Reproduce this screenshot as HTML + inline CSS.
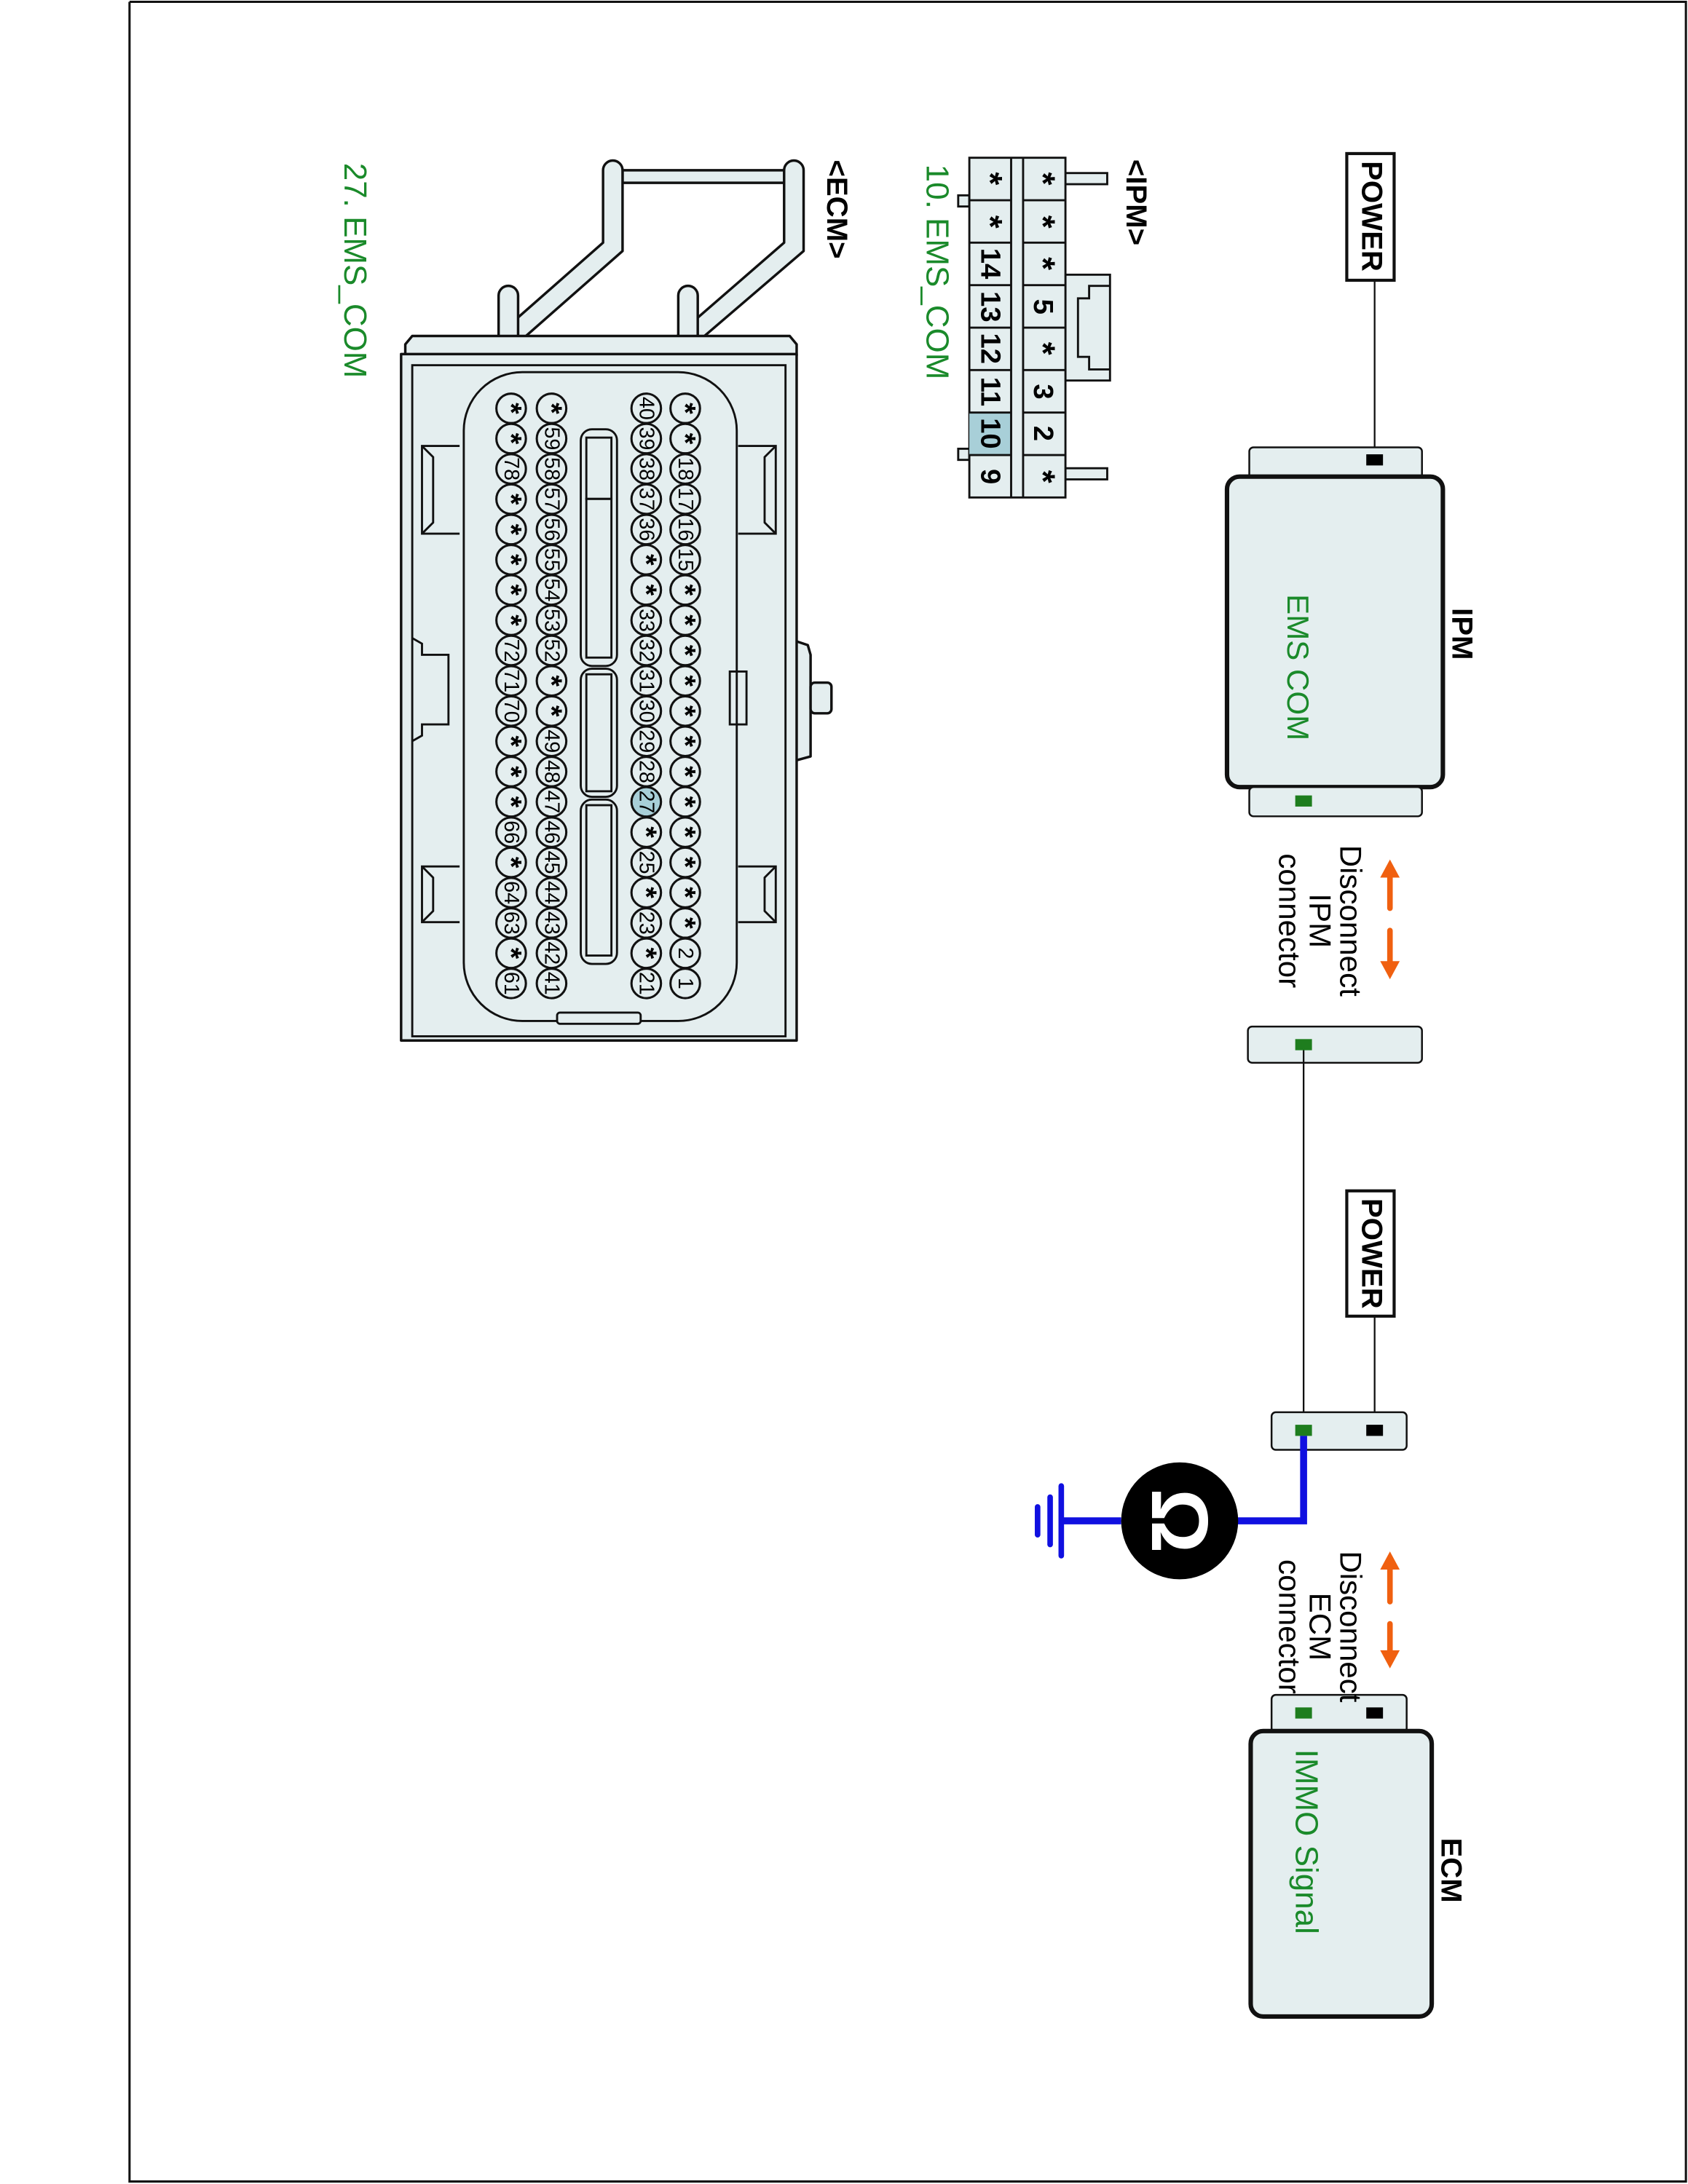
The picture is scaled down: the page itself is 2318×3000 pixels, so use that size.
<!DOCTYPE html>
<html><head><meta charset="utf-8"><style>html,body{margin:0;padding:0;background:#fff}svg{display:block}</style></head>
<body>
<svg xmlns="http://www.w3.org/2000/svg" width="2318" height="3000" viewBox="0 0 1212 1568" font-family="Liberation Sans, Arial, sans-serif">
<rect x="0" y="0" width="1212" height="1568" fill="#fff"/>
<polyline points="93,1 1210.5,1 1210.5,1566.5 93,1566.5 93,1" fill="none" stroke="#111" stroke-width="1.6"/>

<g fill="#e4eeef" stroke="#111">
<rect x="967" y="110" width="34" height="91" fill="#fff" stroke-width="2.2"/>
<line x1="987" y1="201" x2="987" y2="330" stroke-width="1.2"/>
<rect x="897" y="321" width="124" height="24" rx="3" stroke-width="1.3"/>
<rect x="881" y="342" width="155" height="223" rx="9" stroke-width="3.2"/>
<rect x="897" y="565" width="124" height="21" rx="3" stroke-width="1.3"/>
<rect x="896" y="737" width="125" height="26" rx="3" stroke-width="1.3"/>
<line x1="936" y1="750" x2="936" y2="1027" stroke-width="1.2"/>
<rect x="967" y="855" width="34" height="90" fill="#fff" stroke-width="2.2"/>
<line x1="987" y1="945" x2="987" y2="1027" stroke-width="1.2"/>
<rect x="913" y="1014" width="97" height="27" rx="3" stroke-width="1.3"/>
<rect x="913" y="1217" width="97" height="27" rx="3" stroke-width="1.3"/>
<rect x="898" y="1243" width="130" height="205" rx="9" stroke-width="3.2"/>
</g>
<rect x="981" y="326" width="12" height="8" fill="#000"/>
<rect x="930" y="571" width="12" height="8" fill="#1e7d1e"/>
<rect x="930" y="746" width="12" height="8" fill="#1e7d1e"/>
<rect x="930" y="1023" width="12" height="8" fill="#1e7d1e"/>
<rect x="981" y="1023" width="12" height="8" fill="#000"/>
<rect x="930" y="1226" width="12" height="8" fill="#1e7d1e"/>
<rect x="981" y="1226" width="12" height="8" fill="#000"/>

<polyline points="936,1031 936,1092 880,1092" fill="none" stroke="#1010e0" stroke-width="5"/>
<line x1="805" y1="1092" x2="763" y2="1092" stroke="#1010e0" stroke-width="5"/>
<line x1="762" y1="1067" x2="762" y2="1117" stroke="#1010e0" stroke-width="4" stroke-linecap="round"/>
<line x1="754" y1="1075" x2="754" y2="1109" stroke="#1010e0" stroke-width="4" stroke-linecap="round"/>
<line x1="745" y1="1082" x2="745" y2="1102" stroke="#1010e0" stroke-width="4" stroke-linecap="round"/>
<circle cx="847" cy="1092" r="42" fill="#000"/>
<text x="847" y="1092" transform="rotate(90 847 1092)" font-size="58" font-weight="bold" fill="#fff" text-anchor="middle" dominant-baseline="central">Ω</text>

<g stroke="#f06010" stroke-width="4" stroke-linecap="round" fill="#f06010">
<line x1="998" y1="630" x2="998" y2="652"/><line x1="998" y1="668" x2="998" y2="690"/>
<polygon points="998,617 991,630 1005,630" stroke="none"/><polygon points="998,703 991,690 1005,690" stroke="none"/>
<line x1="998" y1="1127" x2="998" y2="1150"/><line x1="998" y1="1166" x2="998" y2="1185"/>
<polygon points="998,1114 991,1127 1005,1127" stroke="none"/><polygon points="998,1198 991,1185 1005,1185" stroke="none"/>
</g>

<g font-size="22" fill="#000" text-anchor="middle" dominant-baseline="central">
<text x="985" y="155" transform="rotate(90 985 155)" font-weight="bold" font-size="21">POWER</text>
<text x="985" y="900" transform="rotate(90 985 900)" font-weight="bold" font-size="21">POWER</text>
<text x="1050" y="455" transform="rotate(90 1050 455)" font-weight="bold" font-size="21">IPM</text>
<text x="1042" y="1343" transform="rotate(90 1042 1343)" font-weight="bold" font-size="21">ECM</text>
<text x="970" y="661" transform="rotate(90 970 661)">Disconnect</text>
<text x="948" y="661" transform="rotate(90 948 661)">IPM</text>
<text x="926" y="661" transform="rotate(90 926 661)">connector</text>
<text x="970" y="1168" transform="rotate(90 970 1168)">Disconnect</text>
<text x="948" y="1168" transform="rotate(90 948 1168)">ECM</text>
<text x="926" y="1168" transform="rotate(90 926 1168)">connector</text>
<text x="932" y="479" transform="rotate(90 932 479)" fill="#1a8a2a" font-size="22">EMS COM</text>
<text x="938" y="1256" transform="rotate(90 938 1256)" fill="#1a8a2a" text-anchor="start" font-size="23">IMMO Signal</text>
<text x="816" y="145" transform="rotate(90 816 145)" font-weight="bold" font-size="21">&lt;IPM&gt;</text>
<text x="601" y="150" transform="rotate(90 601 150)" font-weight="bold" font-size="21">&lt;ECM&gt;</text>
<text x="673" y="195" transform="rotate(90 673 195)" fill="#1a8a2a" font-size="23">10. EMS_COM</text>
<text x="255" y="194" transform="rotate(90 255 194)" fill="#1a8a2a" font-size="23">27. EMS_COM</text>
</g>

<g fill="#e4eeef" stroke="#111" stroke-width="1.5">
<rect x="765" y="124" width="30" height="8"/>
<rect x="765" y="336" width="30" height="8"/>
<rect x="765" y="197" width="32" height="76"/>
<polyline points="797,205 782,205 782,214 774,214 774,256 782,256 782,265 797,265" fill="none"/>
<rect x="688" y="140" width="8" height="8"/>
<rect x="688" y="322" width="8" height="8"/>
<rect x="696" y="113" width="69" height="244"/>
</g>
<rect x="696" y="296" width="30" height="30.5" fill="#a8cfd8"/>
<g stroke="#111" stroke-width="1.5" fill="none">
<line x1="726" y1="113" x2="726" y2="357"/><line x1="734.6" y1="113" x2="734.6" y2="357"/>
<line x1="696" y1="143.5" x2="726" y2="143.5"/><line x1="734.6" y1="143.5" x2="765" y2="143.5"/>
<line x1="696" y1="174" x2="726" y2="174"/><line x1="734.6" y1="174" x2="765" y2="174"/>
<line x1="696" y1="204.5" x2="726" y2="204.5"/><line x1="734.6" y1="204.5" x2="765" y2="204.5"/>
<line x1="696" y1="235" x2="726" y2="235"/><line x1="734.6" y1="235" x2="765" y2="235"/>
<line x1="696" y1="265.5" x2="726" y2="265.5"/><line x1="734.6" y1="265.5" x2="765" y2="265.5"/>
<line x1="696" y1="296" x2="726" y2="296"/><line x1="734.6" y1="296" x2="765" y2="296"/>
<line x1="696" y1="326.5" x2="726" y2="326.5"/><line x1="734.6" y1="326.5" x2="765" y2="326.5"/>
</g>
<g font-size="20" fill="#000" text-anchor="middle" dominant-baseline="central" font-weight="bold">
<text x="711" y="128" transform="rotate(90 711 128)" font-size="24">*</text><text x="749" y="128" transform="rotate(90 749 128)" font-size="24">*</text>
<text x="711" y="159" transform="rotate(90 711 159)" font-size="24">*</text><text x="749" y="159" transform="rotate(90 749 159)" font-size="24">*</text>
<text x="711" y="189" transform="rotate(90 711 189)">14</text><text x="749" y="189" transform="rotate(90 749 189)" font-size="24">*</text>
<text x="711" y="220" transform="rotate(90 711 220)">13</text><text x="749" y="220" transform="rotate(90 749 220)">5</text>
<text x="711" y="250" transform="rotate(90 711 250)">12</text><text x="749" y="250" transform="rotate(90 749 250)" font-size="24">*</text>
<text x="711" y="281" transform="rotate(90 711 281)">11</text><text x="749" y="281" transform="rotate(90 749 281)">3</text>
<text x="711" y="311" transform="rotate(90 711 311)">10</text><text x="749" y="311" transform="rotate(90 749 311)">2</text>
<text x="711" y="342" transform="rotate(90 711 342)">9</text><text x="749" y="342" transform="rotate(90 749 342)" font-size="24">*</text>
</g>

<g fill="#e4eeef" stroke="#111" stroke-width="1.8" stroke-linejoin="round">
<rect x="447" y="122" width="117" height="9"/>
<path d="M433,122 a7,7 0 0 1 14,0 L447,180 L372,246 L358,246 L358,240 L433,174 Z"/>
<path d="M563,122 a7,7 0 0 1 14,0 L577,180 L500,246 L487,246 L487,240 L563,174 Z"/>
<path d="M358,212 a7,7 0 0 1 14,0 L372,252 L358,252 Z"/>
<path d="M487,212 a7,7 0 0 1 14,0 L501,252 L487,252 Z"/>
<path d="M291,255 L291,247 L296,241 L567,241 L572,247 L572,255 Z"/>
<path d="M571,460 L580,463 L582,470 L582,543 L571,546 Z"/>
<rect x="582" y="490" width="15" height="22" rx="3"/>
<rect x="288" y="254" width="284" height="493"/>
</g>
<g fill="none" stroke="#111" stroke-width="1.5">
<rect x="296" y="262" width="268" height="482"/>
<rect x="333" y="267" width="196" height="466" rx="42"/>
<path d="M330,320 L303,320 L303,383 L330,383"/><path d="M303,320 L311,328 L311,375 L303,383"/>
<path d="M530,320 L557,320 L557,383 L530,383"/><path d="M557,320 L549,328 L549,375 L557,383"/>
<path d="M330,622 L303,622 L303,662 L330,662"/><path d="M303,622 L311,630 L311,654 L303,662"/>
<path d="M530,622 L557,622 L557,662 L530,662"/><path d="M557,622 L549,630 L549,654 L557,662"/>
<path d="M296,458 L303,462 L303,470 L322,470 L322,520 L303,520 L303,528 L296,532"/>
<rect x="524" y="482" width="12" height="38"/>
<rect x="400" y="727" width="60" height="8" rx="2" fill="#e4eeef"/>
<rect x="417" y="308" width="26" height="170" rx="8"/>
<rect x="421" y="314" width="18" height="44"/>
<rect x="421" y="358" width="18" height="114"/>
<rect x="417" y="480" width="26" height="92" rx="8"/>
<rect x="421" y="484" width="18" height="84"/>
<rect x="417" y="574" width="26" height="118" rx="8"/>
<rect x="421" y="578" width="18" height="108"/>
</g>

<g fill="#e4eeef" stroke="#111" stroke-width="1.6">
<circle cx="492" cy="293" r="10.6"/><circle cx="492" cy="314.7" r="10.6"/><circle cx="492" cy="336.5" r="10.6"/><circle cx="492" cy="358.2" r="10.6"/><circle cx="492" cy="380" r="10.6"/><circle cx="492" cy="401.7" r="10.6"/><circle cx="492" cy="423.4" r="10.6"/><circle cx="492" cy="445.2" r="10.6"/><circle cx="492" cy="466.9" r="10.6"/><circle cx="492" cy="488.7" r="10.6"/><circle cx="492" cy="510.4" r="10.6"/><circle cx="492" cy="532.1" r="10.6"/><circle cx="492" cy="553.9" r="10.6"/><circle cx="492" cy="575.6" r="10.6"/><circle cx="492" cy="597.4" r="10.6"/><circle cx="492" cy="619.1" r="10.6"/><circle cx="492" cy="640.8" r="10.6"/><circle cx="492" cy="662.6" r="10.6"/><circle cx="492" cy="684.3" r="10.6"/><circle cx="492" cy="706" r="10.6"/>
<circle cx="464" cy="293" r="10.6"/><circle cx="464" cy="314.7" r="10.6"/><circle cx="464" cy="336.5" r="10.6"/><circle cx="464" cy="358.2" r="10.6"/><circle cx="464" cy="380" r="10.6"/><circle cx="464" cy="401.7" r="10.6"/><circle cx="464" cy="423.4" r="10.6"/><circle cx="464" cy="445.2" r="10.6"/><circle cx="464" cy="466.9" r="10.6"/><circle cx="464" cy="488.7" r="10.6"/><circle cx="464" cy="510.4" r="10.6"/><circle cx="464" cy="532.1" r="10.6"/><circle cx="464" cy="553.9" r="10.6"/><circle cx="464" cy="575.6" r="10.6" fill="#a8cfd8"/><circle cx="464" cy="597.4" r="10.6"/><circle cx="464" cy="619.1" r="10.6"/><circle cx="464" cy="640.8" r="10.6"/><circle cx="464" cy="662.6" r="10.6"/><circle cx="464" cy="684.3" r="10.6"/><circle cx="464" cy="706" r="10.6"/>
<circle cx="396" cy="293" r="10.6"/><circle cx="396" cy="314.7" r="10.6"/><circle cx="396" cy="336.5" r="10.6"/><circle cx="396" cy="358.2" r="10.6"/><circle cx="396" cy="380" r="10.6"/><circle cx="396" cy="401.7" r="10.6"/><circle cx="396" cy="423.4" r="10.6"/><circle cx="396" cy="445.2" r="10.6"/><circle cx="396" cy="466.9" r="10.6"/><circle cx="396" cy="488.7" r="10.6"/><circle cx="396" cy="510.4" r="10.6"/><circle cx="396" cy="532.1" r="10.6"/><circle cx="396" cy="553.9" r="10.6"/><circle cx="396" cy="575.6" r="10.6"/><circle cx="396" cy="597.4" r="10.6"/><circle cx="396" cy="619.1" r="10.6"/><circle cx="396" cy="640.8" r="10.6"/><circle cx="396" cy="662.6" r="10.6"/><circle cx="396" cy="684.3" r="10.6"/><circle cx="396" cy="706" r="10.6"/>
<circle cx="367" cy="293" r="10.6"/><circle cx="367" cy="314.7" r="10.6"/><circle cx="367" cy="336.5" r="10.6"/><circle cx="367" cy="358.2" r="10.6"/><circle cx="367" cy="380" r="10.6"/><circle cx="367" cy="401.7" r="10.6"/><circle cx="367" cy="423.4" r="10.6"/><circle cx="367" cy="445.2" r="10.6"/><circle cx="367" cy="466.9" r="10.6"/><circle cx="367" cy="488.7" r="10.6"/><circle cx="367" cy="510.4" r="10.6"/><circle cx="367" cy="532.1" r="10.6"/><circle cx="367" cy="553.9" r="10.6"/><circle cx="367" cy="575.6" r="10.6"/><circle cx="367" cy="597.4" r="10.6"/><circle cx="367" cy="619.1" r="10.6"/><circle cx="367" cy="640.8" r="10.6"/><circle cx="367" cy="662.6" r="10.6"/><circle cx="367" cy="684.3" r="10.6"/><circle cx="367" cy="706" r="10.6"/>
</g>
<style>.s{font-size:21px;font-weight:bold}</style>
<g font-size="15" fill="#000" text-anchor="middle" dominant-baseline="central">
<text class="s" x="492" y="293" transform="rotate(90 492 293)">*</text><text class="s" x="492" y="314.7" transform="rotate(90 492 314.7)">*</text><text x="492" y="336.5" transform="rotate(90 492 336.5)">18</text><text x="492" y="358.2" transform="rotate(90 492 358.2)">17</text><text x="492" y="380" transform="rotate(90 492 380)">16</text><text x="492" y="401.7" transform="rotate(90 492 401.7)">15</text><text class="s" x="492" y="423.4" transform="rotate(90 492 423.4)">*</text><text class="s" x="492" y="445.2" transform="rotate(90 492 445.2)">*</text><text class="s" x="492" y="466.9" transform="rotate(90 492 466.9)">*</text><text class="s" x="492" y="488.7" transform="rotate(90 492 488.7)">*</text><text class="s" x="492" y="510.4" transform="rotate(90 492 510.4)">*</text><text class="s" x="492" y="532.1" transform="rotate(90 492 532.1)">*</text><text class="s" x="492" y="553.9" transform="rotate(90 492 553.9)">*</text><text class="s" x="492" y="575.6" transform="rotate(90 492 575.6)">*</text><text class="s" x="492" y="597.4" transform="rotate(90 492 597.4)">*</text><text class="s" x="492" y="619.1" transform="rotate(90 492 619.1)">*</text><text class="s" x="492" y="640.8" transform="rotate(90 492 640.8)">*</text><text class="s" x="492" y="662.6" transform="rotate(90 492 662.6)">*</text><text x="492" y="684.3" transform="rotate(90 492 684.3)">2</text><text x="492" y="706" transform="rotate(90 492 706)">1</text>
<text x="464" y="293" transform="rotate(90 464 293)">40</text><text x="464" y="314.7" transform="rotate(90 464 314.7)">39</text><text x="464" y="336.5" transform="rotate(90 464 336.5)">38</text><text x="464" y="358.2" transform="rotate(90 464 358.2)">37</text><text x="464" y="380" transform="rotate(90 464 380)">36</text><text class="s" x="464" y="401.7" transform="rotate(90 464 401.7)">*</text><text class="s" x="464" y="423.4" transform="rotate(90 464 423.4)">*</text><text x="464" y="445.2" transform="rotate(90 464 445.2)">33</text><text x="464" y="466.9" transform="rotate(90 464 466.9)">32</text><text x="464" y="488.7" transform="rotate(90 464 488.7)">31</text><text x="464" y="510.4" transform="rotate(90 464 510.4)">30</text><text x="464" y="532.1" transform="rotate(90 464 532.1)">29</text><text x="464" y="553.9" transform="rotate(90 464 553.9)">28</text><text x="464" y="575.6" transform="rotate(90 464 575.6)">27</text><text class="s" x="464" y="597.4" transform="rotate(90 464 597.4)">*</text><text x="464" y="619.1" transform="rotate(90 464 619.1)">25</text><text class="s" x="464" y="640.8" transform="rotate(90 464 640.8)">*</text><text x="464" y="662.6" transform="rotate(90 464 662.6)">23</text><text class="s" x="464" y="684.3" transform="rotate(90 464 684.3)">*</text><text x="464" y="706" transform="rotate(90 464 706)">21</text>
<text class="s" x="396" y="293" transform="rotate(90 396 293)">*</text><text x="396" y="314.7" transform="rotate(90 396 314.7)">59</text><text x="396" y="336.5" transform="rotate(90 396 336.5)">58</text><text x="396" y="358.2" transform="rotate(90 396 358.2)">57</text><text x="396" y="380" transform="rotate(90 396 380)">56</text><text x="396" y="401.7" transform="rotate(90 396 401.7)">55</text><text x="396" y="423.4" transform="rotate(90 396 423.4)">54</text><text x="396" y="445.2" transform="rotate(90 396 445.2)">53</text><text x="396" y="466.9" transform="rotate(90 396 466.9)">52</text><text class="s" x="396" y="488.7" transform="rotate(90 396 488.7)">*</text><text class="s" x="396" y="510.4" transform="rotate(90 396 510.4)">*</text><text x="396" y="532.1" transform="rotate(90 396 532.1)">49</text><text x="396" y="553.9" transform="rotate(90 396 553.9)">48</text><text x="396" y="575.6" transform="rotate(90 396 575.6)">47</text><text x="396" y="597.4" transform="rotate(90 396 597.4)">46</text><text x="396" y="619.1" transform="rotate(90 396 619.1)">45</text><text x="396" y="640.8" transform="rotate(90 396 640.8)">44</text><text x="396" y="662.6" transform="rotate(90 396 662.6)">43</text><text x="396" y="684.3" transform="rotate(90 396 684.3)">42</text><text x="396" y="706" transform="rotate(90 396 706)">41</text>
<text class="s" x="367" y="293" transform="rotate(90 367 293)">*</text><text class="s" x="367" y="314.7" transform="rotate(90 367 314.7)">*</text><text x="367" y="336.5" transform="rotate(90 367 336.5)">78</text><text class="s" x="367" y="358.2" transform="rotate(90 367 358.2)">*</text><text class="s" x="367" y="380" transform="rotate(90 367 380)">*</text><text class="s" x="367" y="401.7" transform="rotate(90 367 401.7)">*</text><text class="s" x="367" y="423.4" transform="rotate(90 367 423.4)">*</text><text class="s" x="367" y="445.2" transform="rotate(90 367 445.2)">*</text><text x="367" y="466.9" transform="rotate(90 367 466.9)">72</text><text x="367" y="488.7" transform="rotate(90 367 488.7)">71</text><text x="367" y="510.4" transform="rotate(90 367 510.4)">70</text><text class="s" x="367" y="532.1" transform="rotate(90 367 532.1)">*</text><text class="s" x="367" y="553.9" transform="rotate(90 367 553.9)">*</text><text class="s" x="367" y="575.6" transform="rotate(90 367 575.6)">*</text><text x="367" y="597.4" transform="rotate(90 367 597.4)">66</text><text class="s" x="367" y="619.1" transform="rotate(90 367 619.1)">*</text><text x="367" y="640.8" transform="rotate(90 367 640.8)">64</text><text x="367" y="662.6" transform="rotate(90 367 662.6)">63</text><text class="s" x="367" y="684.3" transform="rotate(90 367 684.3)">*</text><text x="367" y="706" transform="rotate(90 367 706)">61</text>
</g>
</svg>
</body></html>
